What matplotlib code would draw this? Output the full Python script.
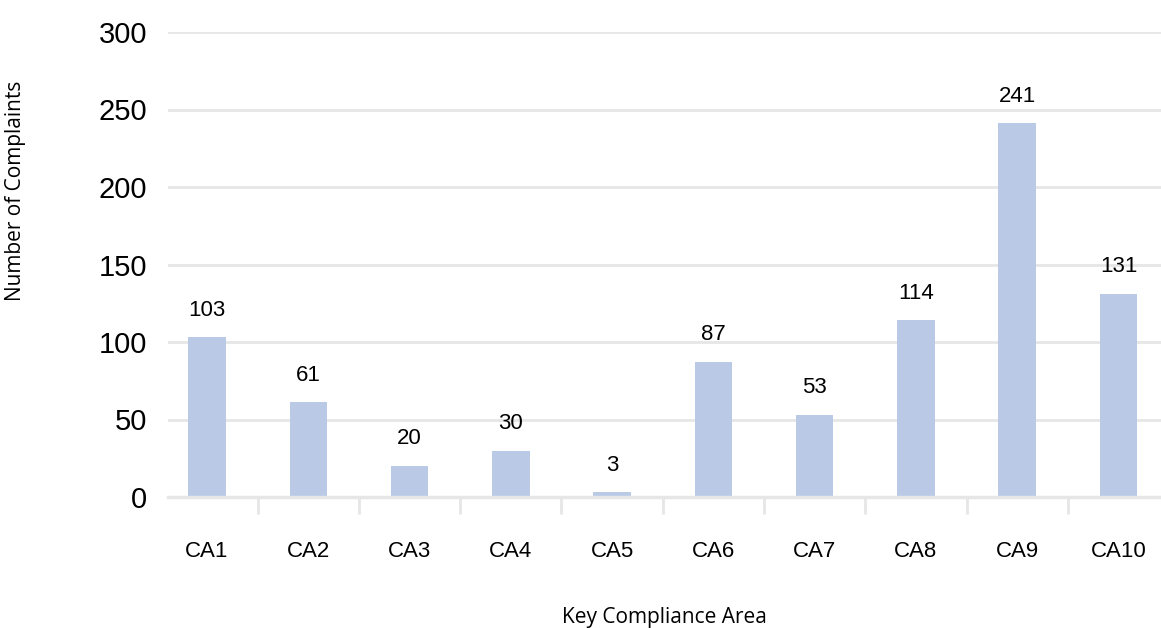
import matplotlib.pyplot as plt
import numpy as np

# Complaints per compliance area
areas = ['CA1', 'CA2', 'CA3', 'CA4', 'CA5', 'CA6', 'CA7', 'CA8', 'CA9', 'CA10']
complaints = [103, 61, 20, 30, 3, 87, 53, 114, 241, 131]
y_ticks = [0, 50, 100, 150, 200, 250, 300]

bar_color = '#b9c9e6'
grid_color = '#e6e6e6'

fig = plt.figure(figsize=(11.61, 6.28), dpi=100)
ax = fig.add_axes([168 / 1161, 1 - 497 / 628, (1161 - 168) / 1161, (497 - 32) / 628])

x = np.arange(len(areas))
bars = ax.bar(x, complaints, width=0.37, color=bar_color, zorder=3)

ax.set_ylim(0, 300)
ax.set_xlim(-0.385, 9.42)
ax.set_yticks(y_ticks)
ax.set_yticklabels([str(t) for t in y_ticks], fontsize=21, family='Liberation Sans')
ax.tick_params(axis='y', length=0, pad=15)
ax.grid(axis='y', color=grid_color, linewidth=2, zorder=0)

# category labels without tick marks; separators drawn between groups
ax.set_xticks(x)
ax.set_xticklabels(areas, fontsize=16, family='Liberation Sans')
ax.tick_params(axis='x', length=0, pad=32)
ax.set_xticks(x[:-1] + 0.5, minor=True)
ax.tick_params(axis='x', which='minor', length=12, width=2, color=grid_color, direction='out')

for side in ['top', 'right', 'left']:
    ax.spines[side].set_visible(False)
ax.spines['bottom'].set_color(grid_color)
ax.spines['bottom'].set_linewidth(2.5)
ax.spines['bottom'].set_zorder(4)

# Add data labels
for bar, val in zip(bars, complaints):
    ax.annotate(f'{val}', (bar.get_x() + bar.get_width() / 2, val),
                xytext=(0, 12), textcoords='offset points',
                ha='center', va='bottom', fontsize=16, family='Liberation Sans')

fig.text((168 + 1161) / 2 / 1161, 1 - 617 / 628, 'Key Compliance Area',
         ha='center', va='center', fontsize=15, family='Open Sans')
fig.text(16 / 1161, 1 - 191 / 628, 'Number of Complaints', rotation=90,
         ha='center', va='center', fontsize=15, family='Open Sans')

plt.savefig('out.png', dpi=100)
